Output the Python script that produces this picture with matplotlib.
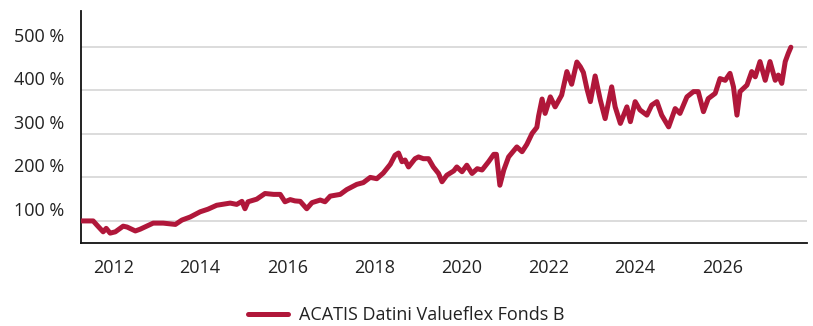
import matplotlib.pyplot as plt
from matplotlib.transforms import ScaledTranslation

# Wertentwicklung des Fonds (Jahr als Dezimalzahl, Wert in %)
jahre = [2011.28, 2011.54, 2011.63, 2011.77, 2011.84, 2011.93, 2012.05, 2012.23, 2012.32, 2012.51,
         2012.62, 2012.77, 2012.92, 2013.15, 2013.43, 2013.58, 2013.77, 2014.00, 2014.18, 2014.38,
         2014.69, 2014.84, 2014.96, 2015.03, 2015.10, 2015.30, 2015.49, 2015.69, 2015.84, 2015.95,
         2016.07, 2016.18, 2016.30, 2016.45, 2016.57, 2016.76, 2016.87, 2016.99, 2017.22, 2017.37,
         2017.60, 2017.75, 2017.91, 2018.06, 2018.21, 2018.37, 2018.48, 2018.56, 2018.64, 2018.71,
         2018.79, 2018.94, 2019.02, 2019.13, 2019.25, 2019.36, 2019.48, 2019.56, 2019.67, 2019.83,
         2019.90, 2020.02, 2020.13, 2020.25, 2020.37, 2020.48, 2020.63, 2020.75, 2020.81, 2020.89,
         2020.98, 2021.09, 2021.28, 2021.40, 2021.51, 2021.63, 2021.74, 2021.78, 2021.86, 2021.93,
         2022.05, 2022.16, 2022.31, 2022.43, 2022.54, 2022.66, 2022.74, 2022.81, 2022.89, 2022.97,
         2023.08, 2023.20, 2023.31, 2023.46, 2023.54, 2023.66, 2023.81, 2023.89, 2024.00, 2024.11,
         2024.27, 2024.38, 2024.50, 2024.61, 2024.77, 2024.92, 2025.03, 2025.19, 2025.34, 2025.45,
         2025.57, 2025.68, 2025.84, 2025.95, 2026.07, 2026.18, 2026.26, 2026.34, 2026.41, 2026.57,
         2026.68, 2026.76, 2026.87, 2026.99, 2027.10, 2027.22, 2027.29, 2027.37, 2027.45, 2027.52,
         2027.58]
werte = [100, 100, 90, 75, 83, 72, 75, 88, 86, 77,
         81, 88, 95, 95, 92, 102, 109, 121, 127, 136,
         141, 138, 145, 128, 144, 150, 163, 161, 161, 144,
         149, 146, 145, 128, 142, 148, 144, 157, 161, 172,
         184, 188, 200, 197, 210, 230, 251, 256, 236, 240,
         224, 243, 247, 243, 243, 224, 209, 190, 205, 215,
         224, 213, 228, 209, 220, 217, 236, 253, 253, 182,
         217, 247, 270, 259, 276, 301, 315, 341, 380, 347,
         385, 362, 389, 443, 414, 465, 454, 441, 404, 374,
         433, 377, 335, 408, 362, 324, 362, 328, 374, 355,
         343, 366, 374, 343, 316, 358, 347, 385, 397, 397,
         351, 381, 393, 427, 423, 439, 408, 343, 397, 412,
         443, 431, 466, 423, 466, 423, 435, 416, 466, 485,
         499]

x_ticks = [2012, 2014, 2016, 2018, 2020, 2022, 2024, 2026]
y_ticks = [100, 200, 300, 400, 500]
y_labels = ['100 %', '200 %', '300 %', '400 %', '500 %']
fonds_name = 'ACATIS Datini Valueflex Fonds B'

plt.rcParams['font.family'] = ['Open Sans', 'DejaVu Sans']
text_farbe = '#222222'

fig = plt.figure(figsize=(8.13, 3.26), dpi=100)
ax = fig.add_axes([0.0996, 0.2555, 0.893, 0.7105])

ax.plot(jahre, werte, color='#B0173A', linewidth=3.6, solid_joinstyle='round',
        solid_capstyle='round', label=fonds_name, zorder=3)

ax.set_xlim(2011.26, 2027.95)
ax.set_ylim(50, 582)

ax.set_xticks(x_ticks)
ax.set_xticklabels([str(j) for j in x_ticks])
ax.set_yticks(y_ticks)
ax.set_yticklabels(y_labels)
ax.tick_params(axis='both', length=0, labelsize=13, labelcolor=text_farbe)
ax.tick_params(axis='x', pad=12)
ax.tick_params(axis='y', pad=12)

# Beschriftungen der y-Achse sitzen oberhalb der Gitterlinien
versatz = ScaledTranslation(0, 12 / 100, fig.dpi_scale_trans)
for lab in ax.get_yticklabels():
    lab.set_transform(lab.get_transform() + versatz)

ax.grid(axis='y', color='#d6d6d6', linewidth=1.2)
ax.set_axisbelow(True)

for seite in ['top', 'right']:
    ax.spines[seite].set_visible(False)
ax.spines['left'].set_color('#111111')
ax.spines['bottom'].set_color('#111111')
ax.spines['left'].set_linewidth(1.3)
ax.spines['bottom'].set_linewidth(1.3)

fig.legend(loc='center', bbox_to_anchor=(0.5, 0.034), frameon=False, fontsize=13,
           handlelength=2.2, handletextpad=0.6, labelcolor=text_farbe)

fig.savefig('out.png', dpi=100)
